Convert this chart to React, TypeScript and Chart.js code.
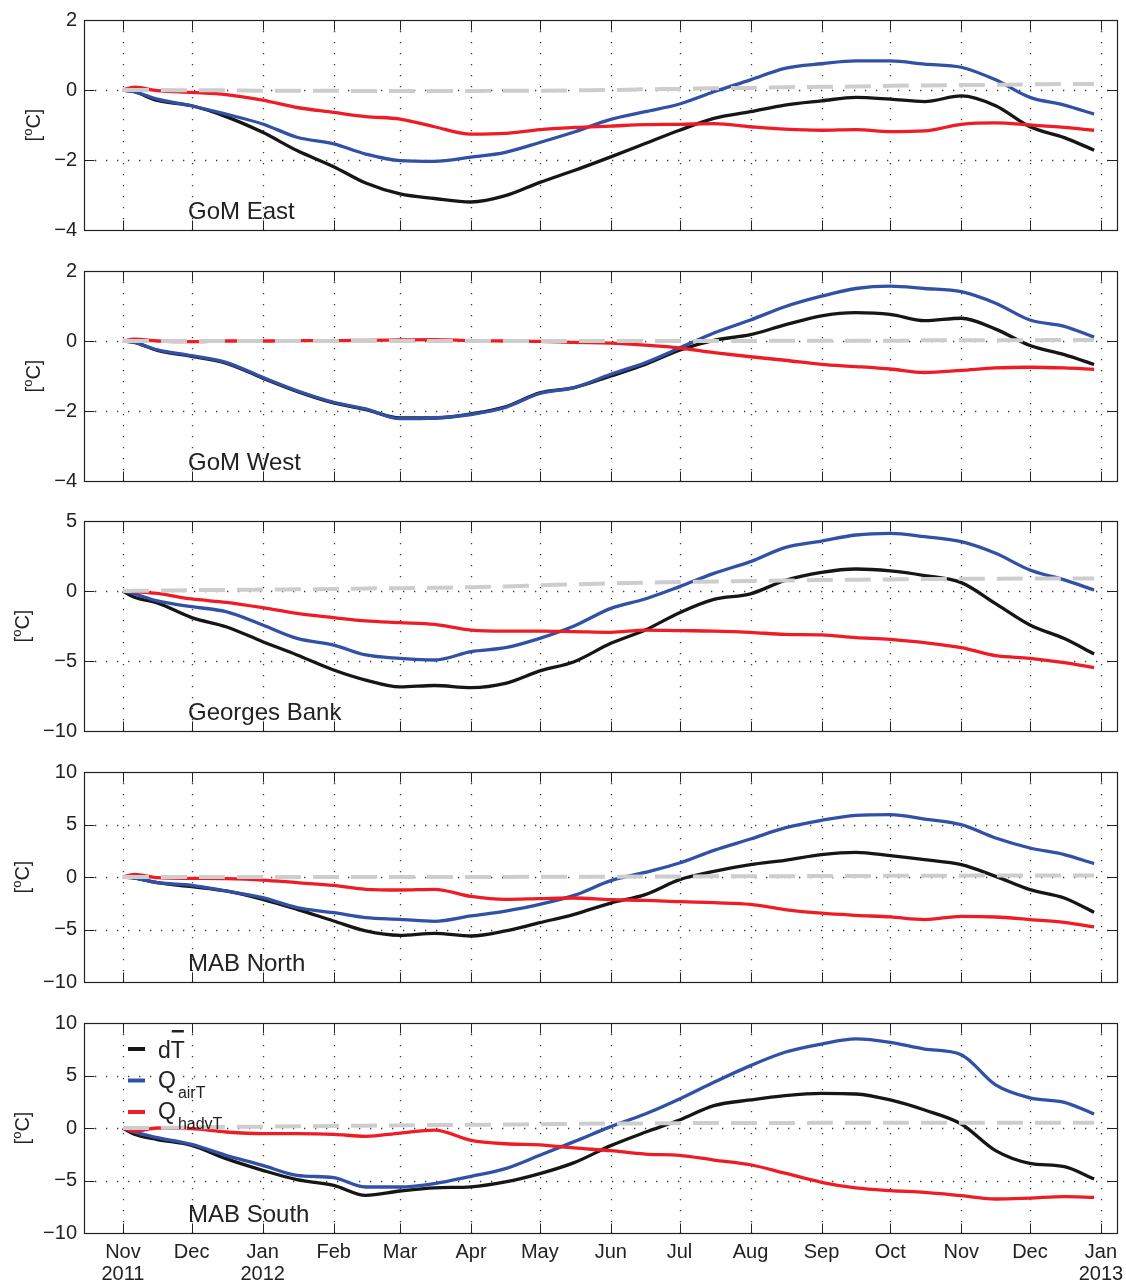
import React, { useEffect, useRef } from 'react';
import { Chart, registerables } from 'chart.js';

Chart.register(...registerables);

// ---------- data (days since 1 Nov 2011) ----------
const DAYS = [0, 5, 15, 30, 45, 61, 76, 92, 106, 121, 136, 152, 167, 182, 197, 213, 228, 243, 258, 274, 289, 305, 320, 335, 350, 366, 381, 396, 411, 424];

const MONTH_TICKS = [0, 30, 61, 92, 121, 152, 182, 213, 243, 274, 305, 335, 366, 396, 427];
const MONTH_LABELS = [["Nov", "2011"], ["Dec"], ["Jan", "2012"], ["Feb"], ["Mar"], ["Apr"], ["May"], ["Jun"], ["Jul"], ["Aug"], ["Sep"], ["Oct"], ["Nov"], ["Dec"], ["Jan", "2013"]];
const X_MIN = -17;
const X_MAX = 434;

const PANEL_NAMES = ["GoM East", "GoM West", "Georges Bank", "MAB North", "MAB South"];
const Y_TICKS_GOM = [-4, -2, 0, 2];
const Y_TICKS_GB = [-10, -5, 0, 5];
const Y_TICKS_MAB = [-10, -5, 0, 5, 10];

const GOM_EAST_DT = [0, -0.05, -0.3, -0.45, -0.76, -1.21, -1.73, -2.19, -2.66, -2.97, -3.1, -3.2, -3.02, -2.64, -2.3, -1.91, -1.53, -1.15, -0.81, -0.62, -0.43, -0.31, -0.21, -0.26, -0.33, -0.17, -0.45, -1.05, -1.36, -1.72];
const GOM_EAST_AIR = [0, -0.05, -0.26, -0.45, -0.69, -0.97, -1.35, -1.54, -1.83, -2.02, -2.04, -1.92, -1.78, -1.5, -1.2, -0.84, -0.62, -0.4, -0.05, 0.29, 0.62, 0.75, 0.83, 0.83, 0.74, 0.65, 0.29, -0.21, -0.43, -0.69];
const GOM_EAST_HADV = [0, 0.08, -0.02, -0.07, -0.13, -0.29, -0.5, -0.64, -0.76, -0.83, -1.05, -1.26, -1.24, -1.13, -1.07, -1.03, -0.99, -0.98, -0.96, -1.05, -1.12, -1.15, -1.13, -1.19, -1.17, -0.98, -0.94, -1.0, -1.07, -1.15];
const GOM_EAST_RES = [0, 0, 0, -0.01, -0.01, -0.02, -0.02, -0.02, -0.03, -0.03, -0.03, -0.03, -0.02, -0.02, -0.01, 0, 0.02, 0.03, 0.05, 0.06, 0.08, 0.09, 0.1, 0.12, 0.13, 0.14, 0.15, 0.16, 0.17, 0.17];

const GOM_WEST_DT = [0, -0.04, -0.27, -0.44, -0.63, -1.06, -1.44, -1.77, -1.96, -2.2, -2.2, -2.08, -1.88, -1.48, -1.33, -1.0, -0.67, -0.26, 0.02, 0.18, 0.46, 0.72, 0.81, 0.76, 0.58, 0.65, 0.34, -0.13, -0.39, -0.67];
const GOM_WEST_AIR = [0, -0.04, -0.25, -0.42, -0.61, -1.04, -1.42, -1.75, -1.94, -2.22, -2.2, -2.1, -1.9, -1.5, -1.33, -0.95, -0.62, -0.2, 0.23, 0.6, 0.98, 1.28, 1.5, 1.57, 1.5, 1.41, 1.08, 0.6, 0.42, 0.11];
const GOM_WEST_HADV = [0, 0.05, 0, -0.02, 0, 0, 0.01, 0.01, 0.02, 0.03, 0.04, 0.01, 0, -0.01, -0.04, -0.06, -0.12, -0.2, -0.33, -0.45, -0.55, -0.67, -0.73, -0.8, -0.9, -0.84, -0.77, -0.75, -0.77, -0.81];
const GOM_WEST_RES = [0, 0, 0, 0, 0, 0, 0, 0, 0, 0, 0, 0, 0, 0, 0, 0, 0, 0, 0, 0, 0.01, 0.01, 0.01, 0.01, 0.02, 0.02, 0.02, 0.02, 0.03, 0.03];

const GB_DT = [0, -0.45, -0.85, -1.9, -2.55, -3.62, -4.57, -5.64, -6.36, -6.85, -6.75, -6.9, -6.6, -5.71, -5.05, -3.74, -2.79, -1.55, -0.6, -0.2, 0.75, 1.33, 1.57, 1.43, 1.1, 0.6, -0.9, -2.43, -3.4, -4.5];
const GB_AIR = [0, -0.2, -0.71, -1.12, -1.48, -2.43, -3.38, -3.86, -4.57, -4.81, -4.93, -4.33, -4.05, -3.38, -2.5, -1.24, -0.57, 0.31, 1.26, 2.1, 3.1, 3.57, 4.0, 4.12, 3.88, 3.52, 2.69, 1.5, 0.79, 0.07];
const GB_HADV = [0, -0.05, -0.17, -0.57, -0.81, -1.19, -1.6, -1.9, -2.14, -2.26, -2.38, -2.79, -2.86, -2.86, -2.9, -2.95, -2.79, -2.83, -2.86, -2.95, -3.1, -3.14, -3.33, -3.45, -3.69, -4.05, -4.62, -4.81, -5.12, -5.48];
const GB_RES = [0, 0.01, 0.03, 0.06, 0.08, 0.1, 0.12, 0.14, 0.18, 0.2, 0.23, 0.27, 0.33, 0.4, 0.48, 0.55, 0.6, 0.64, 0.68, 0.72, 0.75, 0.78, 0.81, 0.83, 0.85, 0.87, 0.88, 0.89, 0.9, 0.9];

const MABN_DT = [0, -0.1, -0.54, -0.92, -1.33, -2.13, -3.08, -4.19, -5.14, -5.56, -5.37, -5.62, -5.14, -4.35, -3.56, -2.48, -1.68, -0.25, 0.54, 1.17, 1.59, 2.13, 2.35, 2.03, 1.65, 1.17, 0.06, -1.2, -2.0, -3.37];
const MABN_AIR = [0, -0.1, -0.54, -0.79, -1.33, -1.97, -2.92, -3.4, -3.87, -4.03, -4.22, -3.71, -3.24, -2.6, -1.75, -0.35, 0.44, 1.33, 2.54, 3.62, 4.67, 5.4, 5.87, 5.94, 5.52, 4.98, 3.71, 2.76, 2.13, 1.27];
const MABN_HADV = [0, 0.25, -0.06, -0.13, -0.16, -0.29, -0.54, -0.8, -1.17, -1.24, -1.17, -1.85, -2.13, -2.06, -2.0, -2.16, -2.22, -2.35, -2.45, -2.6, -3.1, -3.45, -3.65, -3.8, -4.05, -3.75, -3.81, -4.06, -4.32, -4.76];
const MABN_RES = [0, 0, 0, 0, 0, 0, 0, 0, 0, 0, 0, 0.01, 0.01, 0.02, 0.02, 0.03, 0.04, 0.05, 0.06, 0.07, 0.08, 0.09, 0.1, 0.11, 0.12, 0.13, 0.14, 0.14, 0.15, 0.15];

const MABS_DT = [0, -0.6, -1.1, -1.65, -2.92, -4.03, -4.92, -5.46, -6.41, -6.0, -5.7, -5.6, -5.14, -4.35, -3.3, -1.68, -0.41, 0.76, 2.13, 2.67, 3.08, 3.3, 3.24, 2.67, 1.71, 0.38, -2.16, -3.37, -3.68, -4.86];
const MABS_AIR = [0, -0.4, -0.92, -1.56, -2.6, -3.56, -4.51, -4.73, -5.62, -5.62, -5.3, -4.6, -3.87, -2.6, -1.3, 0.13, 1.33, 2.76, 4.35, 5.94, 7.21, 8.0, 8.48, 8.16, 7.52, 6.98, 4.1, 2.86, 2.44, 1.33];
const MABS_HADV = [0, -0.3, 0.0, -0.06, -0.38, -0.54, -0.54, -0.6, -0.79, -0.48, -0.2, -1.17, -1.5, -1.6, -1.9, -2.16, -2.48, -2.6, -3.05, -3.5, -4.3, -5.17, -5.71, -5.97, -6.13, -6.44, -6.76, -6.67, -6.54, -6.6];
const MABS_RES = [0, 0, 0.02, 0.05, 0.1, 0.13, 0.16, 0.2, 0.22, 0.25, 0.28, 0.3, 0.33, 0.36, 0.4, 0.42, 0.44, 0.46, 0.47, 0.48, 0.48, 0.49, 0.49, 0.5, 0.5, 0.5, 0.5, 0.5, 0.5, 0.5];

// ---------- style ----------
const FONT = '"Liberation Sans", Arial, Helvetica, sans-serif';
const C_DT = '#161616';
const C_AIR = '#3151a6';
const C_HADV = '#ee1d25';
const C_RES = '#cdcdcd';
const C_AXIS = '#222222';

const PANELS = [
  { name: PANEL_NAMES[0], yTicks: Y_TICKS_GOM, dt: GOM_EAST_DT, air: GOM_EAST_AIR, hadv: GOM_EAST_HADV, res: GOM_EAST_RES },
  { name: PANEL_NAMES[1], yTicks: Y_TICKS_GOM, dt: GOM_WEST_DT, air: GOM_WEST_AIR, hadv: GOM_WEST_HADV, res: GOM_WEST_RES },
  { name: PANEL_NAMES[2], yTicks: Y_TICKS_GB, dt: GB_DT, air: GB_AIR, hadv: GB_HADV, res: GB_RES },
  { name: PANEL_NAMES[3], yTicks: Y_TICKS_MAB, dt: MABN_DT, air: MABN_AIR, hadv: MABN_HADV, res: MABN_RES },
  { name: PANEL_NAMES[4], yTicks: Y_TICKS_MAB, dt: MABS_DT, air: MABS_AIR, hadv: MABS_HADV, res: MABS_RES },
];

const CANVAS_TOPS = [0, 251, 501, 752, 1003];
const CANVAS_HEIGHTS = [251, 250, 251, 251, 279];
const PLOT_TOP = 20;
const PLOT_H = 210;
const PLOT_LEFT = 84;
const PLOT_RIGHT = 1117;
const WIDTH = 1126;

const fmtTick = (v: number) => (v < 0 ? '\u2212' + Math.abs(v) : String(v));

function makePlugin(cfg: { name: string; yTicks: number[]; legend: boolean }) {
  const yMin = cfg.yTicks[0];
  const yMax = cfg.yTicks[cfg.yTicks.length - 1];
  return {
    id: 'matlabAxes',
    beforeDatasetsDraw(chart: any) {
      const { ctx, chartArea: a, scales } = chart;
      ctx.save();
      ctx.strokeStyle = '#3a3a3a';
      ctx.lineWidth = 1.3;
      ctx.setLineDash([1.3, 9.7]);
      for (const v of MONTH_TICKS) {
        const px = Math.round(scales.x.getPixelForValue(v)) + 0.5;
        ctx.beginPath();
        ctx.moveTo(px, a.top);
        ctx.lineTo(px, a.bottom);
        ctx.stroke();
      }
      for (const v of cfg.yTicks) {
        if (v === yMin || v === yMax) continue;
        const py = Math.round(scales.y.getPixelForValue(v)) + 0.5;
        ctx.beginPath();
        ctx.moveTo(a.left, py);
        ctx.lineTo(a.right, py);
        ctx.stroke();
      }
      ctx.restore();
    },
    afterDatasetsDraw(chart: any) {
      const { ctx, chartArea: a, scales } = chart;
      ctx.save();
      // frame
      ctx.setLineDash([]);
      ctx.strokeStyle = C_AXIS;
      ctx.lineWidth = 1.2;
      const L = Math.round(a.left) + 0.5, R = Math.round(a.right) + 0.5;
      const T = Math.round(a.top) + 0.5, B = Math.round(a.bottom) + 0.5;
      ctx.strokeRect(L, T, R - L, B - T);
      // inward ticks
      const TL = 10;
      ctx.lineWidth = 1;
      ctx.beginPath();
      for (const v of MONTH_TICKS) {
        const px = Math.round(scales.x.getPixelForValue(v)) + 0.5;
        ctx.moveTo(px, T); ctx.lineTo(px, T + TL);
        ctx.moveTo(px, B); ctx.lineTo(px, B - TL);
      }
      for (const v of cfg.yTicks) {
        const py = Math.round(scales.y.getPixelForValue(v)) + 0.5;
        ctx.moveTo(L, py); ctx.lineTo(L + TL, py);
        ctx.moveTo(R, py); ctx.lineTo(R - TL, py);
      }
      ctx.stroke();

      // panel name
      ctx.fillStyle = C_AXIS;
      ctx.font = `24px ${FONT}`;
      ctx.textAlign = 'left';
      ctx.textBaseline = 'alphabetic';
      ctx.fillText(cfg.name, a.left + 104, a.bottom - 11);

      // y-axis title "[°C]" with superscript o
      ctx.font = `20px ${FONT}`;
      let maxW = 0;
      for (const v of cfg.yTicks) maxW = Math.max(maxW, ctx.measureText(fmtTick(v)).width);
      const titleX = a.left - 7 - maxW - 20;
      const titleY = (a.top + a.bottom) / 2;
      ctx.translate(titleX, titleY);
      ctx.rotate(-Math.PI / 2);
      ctx.textBaseline = 'middle';
      const big = `20px ${FONT}`, small = `13px ${FONT}`;
      ctx.font = big; const w1 = ctx.measureText('[').width; const w3 = ctx.measureText('C]').width;
      ctx.font = small; const w2 = ctx.measureText('o').width;
      let x0 = -(w1 + w2 + w3) / 2;
      ctx.font = big; ctx.fillText('[', x0, 0); x0 += w1;
      ctx.font = small; ctx.fillText('o', x0, -6); x0 += w2;
      ctx.font = big; ctx.fillText('C]', x0, 0);
      ctx.setTransform(1, 0, 0, 1, 0, 0);

      // legend
      if (cfg.legend) {
        const entries = [
          { color: C_DT, main: 'dT', sub: '', bar: true },
          { color: C_AIR, main: 'Q', sub: 'airT', bar: false },
          { color: C_HADV, main: 'Q', sub: 'hadvT', bar: false },
        ];
        entries.forEach((e, i) => {
          const y = a.top + 26 + 31.5 * i;
          ctx.strokeStyle = e.color;
          ctx.lineWidth = 4;
          ctx.beginPath();
          ctx.moveTo(a.left + 44, y);
          ctx.lineTo(a.left + 61, y);
          ctx.stroke();
          const tx = a.left + 74;
          const base = y + (i === 0 ? 9 : 7);
          ctx.fillStyle = C_AXIS;
          ctx.textBaseline = 'alphabetic';
          ctx.font = `23px ${FONT}`;
          ctx.fillText(e.main, tx, base);
          if (e.bar) {
            const wd = ctx.measureText('d').width;
            const wT = ctx.measureText('T').width;
            ctx.fillRect(tx + wd + 1, base - 28, wT - 2, 2.5);
          }
          if (e.sub) {
            const wq = ctx.measureText(e.main).width;
            ctx.font = `16px ${FONT}`;
            ctx.fillText(e.sub, tx + wq + 2, base + 10);
          }
        });
      }
      ctx.restore();
    },
  };
}

function Panel({ index }: { index: number }) {
  const ref = useRef<HTMLCanvasElement | null>(null);
  const p = PANELS[index];
  const H = CANVAS_HEIGHTS[index];
  const showX = index === PANELS.length - 1;

  useEffect(() => {
    if (!ref.current) return;
    const mk = (vals: number[]) => DAYS.map((d, i) => ({ x: d, y: vals[i] }));
    const common = { pointRadius: 0, fill: false, cubicInterpolationMode: 'monotone' as const };
    const chart = new Chart(ref.current, {
      type: 'line',
      data: {
        datasets: [
          { label: 'dT', data: mk(p.dt), borderColor: C_DT, borderWidth: 3.3, order: 3, ...common },
          { label: 'QairT', data: mk(p.air), borderColor: C_AIR, borderWidth: 3.3, order: 2, ...common },
          { label: 'QhadvT', data: mk(p.hadv), borderColor: C_HADV, borderWidth: 3.3, order: 1, ...common },
          { label: 'residual', data: mk(p.res), borderColor: C_RES, borderWidth: 4, borderDash: [26, 12], order: 0, ...common },
        ],
      },
      options: {
        responsive: false,
        animation: false,
        devicePixelRatio: 1,
        layout: { padding: { top: PLOT_TOP, left: 0, right: WIDTH - PLOT_RIGHT, bottom: 0 } },
        plugins: { legend: { display: false }, tooltip: { enabled: false } },
        scales: {
          x: {
            type: 'linear',
            min: X_MIN,
            max: X_MAX,
            afterBuildTicks: (s: any) => { s.ticks = MONTH_TICKS.map((v) => ({ value: v })); },
            afterFit: (s: any) => {
              s.height = H - PLOT_TOP - PLOT_H;
              s.paddingLeft = 0;
              s.paddingRight = 0;
            },
            ticks: {
              display: showX,
              autoSkip: false,
              maxRotation: 0,
              minRotation: 0,
              padding: 8,
              color: C_AXIS,
              font: { size: 20, family: FONT, lineHeight: 1.1 },
              callback: (_v: any, i: number) => MONTH_LABELS[i],
            },
            grid: { display: false, drawTicks: false },
            border: { display: false },
          },
          y: {
            min: p.yTicks[0],
            max: p.yTicks[p.yTicks.length - 1],
            afterBuildTicks: (s: any) => { s.ticks = p.yTicks.map((v) => ({ value: v })); },
            afterFit: (s: any) => { s.width = PLOT_LEFT; s.paddingTop = 0; s.paddingBottom = 0; },
            ticks: {
              padding: 7,
              color: C_AXIS,
              font: { size: 20, family: FONT },
              callback: (v: any) => fmtTick(Number(v)),
            },
            grid: { display: false, drawTicks: false },
            border: { display: false },
          },
        },
      },
      plugins: [makePlugin({ name: p.name, yTicks: p.yTicks, legend: showX })],
    } as any);
    return () => chart.destroy();
  }, [index]);

  return (
    <canvas
      ref={ref}
      width={WIDTH}
      height={H}
      style={{ position: 'absolute', left: 0, top: CANVAS_TOPS[index], width: WIDTH, height: H }}
    />
  );
}

export default function App() {
  return (
    <div style={{ position: 'absolute', left: 0, top: 0, width: WIDTH, height: 1282, background: '#ffffff' }}>
      {PANELS.map((_, i) => (
        <Panel key={i} index={i} />
      ))}
    </div>
  );
}
